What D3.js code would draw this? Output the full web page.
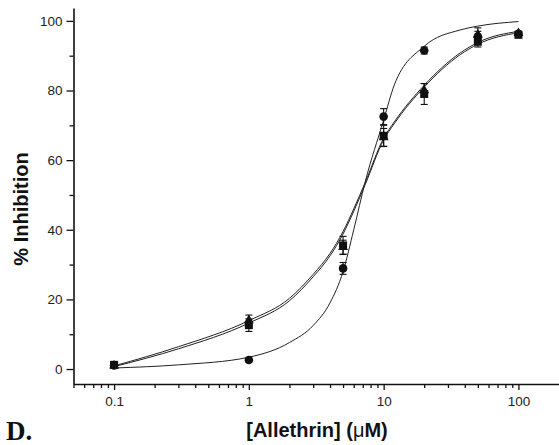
<!DOCTYPE html>
<html>
<head>
<meta charset="utf-8">
<script src="https://cdn.jsdelivr.net/npm/d3@7"></script>
<style>
  body { margin: 0; background: #fff; }
  svg { display: block; font-family: "Liberation Sans", Arial, sans-serif; }
</style>
</head>
<body>
<div class="chart"></div>
<script>
// measured points
const conc = [0.1, 1, 5, 10, 20, 50, 100]
const circleVals = [1.0, 2.6, 28.9, 72.5, 91.5, 95.5, 96.3]
const circleErr = [0.5, 0.6, 1.7, 2.3, 1.0, 1.5, 0.5]
const squareVals = [1.2, 12.6, 35.5, 67.0, 79.0, 94.0, 96.0]
const squareErr = [0.8, 1.8, 2.6, 3.0, 3.0, 1.5, 0.5]
const triangleVals = [1.0, 14.0, 35.0, 66.5, 80.0, 96.0, 96.5]
const triangleErr = [0.5, 1.5, 2.0, 2.6, 2.0, 2.0, 0.5]

// fitted curves
const fitX = [0.1, 0.3, 1, 2, 3, 4, 5, 6, 7.3, 10, 12, 20, 37, 50, 100]
const circleFit = [0.3, 1.2, 3.4, 7.6, 12.5, 19, 28, 40, 53.8, 71.5, 81.6, 92.7, 97.4, 98.5, 99.8]
const squareFit = [0.7, 5.8, 13.2, 19.6, 26.5, 32.5, 38.8, 45.3, 53.0, 65.8, 70.5, 81.0, 90.3, 93.3, 96.6]
const triangleFit = [0.9, 6.4, 13.9, 20.3, 27.2, 33.2, 39.5, 46.0, 53.6, 66.3, 71.0, 81.5, 90.8, 93.8, 97.0]

const xMajor = [0.1, 1, 10, 100]
const xLabels = ['0.1', '1', '10', '100']
const yMajor = [0, 20, 40, 60, 80, 100]
const yMinor = [10, 30, 50, 70, 90]

const width = 559
const height = 445

const x = d3.scaleLog().domain([0.05, 200]).range([73.5, 559])
const y = d3.scaleLinear().domain([-4.3, 103.7]).range([384, 8])

const svg = d3.select('.chart').append('svg')
    .attr('width', width)
    .attr('height', height)

// axes
const xAxis = svg.append('g')
    .attr('transform', 'translate(0,384)')
    .call(d3.axisBottom(x).tickValues(xMajor).tickFormat((d, i) => xLabels[i]).tickSize(6).tickSizeOuter(0).tickPadding(6))
xAxis.append('g')
    .call(d3.axisBottom(x).tickValues(x.ticks().filter(d => !xMajor.includes(d) && d < 199)).tickFormat('').tickSize(4).tickSizeOuter(0))
    .select('.domain').remove()

const yAxis = svg.append('g')
    .attr('transform', 'translate(73.5,0)')
    .call(d3.axisLeft(y).tickValues(yMajor).tickSize(7).tickSizeOuter(0).tickPadding(4))
yAxis.append('g')
    .call(d3.axisLeft(y).tickValues(yMinor).tickFormat('').tickSize(4).tickSizeOuter(0))
    .select('.domain').remove()

svg.selectAll('.domain').attr('stroke', '#111').attr('stroke-width', 1.6)
svg.selectAll('.tick line').attr('stroke', '#111').attr('stroke-width', 1.3)
svg.selectAll('.tick text').attr('font-size', 13.5).attr('fill', '#222')
    .attr('font-family', '"Liberation Sans", Arial, sans-serif')

// titles
svg.append('text')
    .attr('transform', 'translate(28,209) rotate(-90)')
    .attr('text-anchor', 'middle')
    .attr('font-size', 20)
    .attr('font-weight', 'bold')
    .attr('fill', '#111')
    .text('% Inhibition')

const xTitle = svg.append('text')
    .attr('x', 317)
    .attr('y', 437)
    .attr('text-anchor', 'middle')
    .attr('font-size', 20)
    .attr('font-weight', 'bold')
    .attr('fill', '#111')
xTitle.append('tspan').text('[Allethrin] (')
xTitle.append('tspan').attr('font-weight', 'normal').text('μ')
xTitle.append('tspan').text('M)')

svg.append('text')
    .attr('x', 6)
    .attr('y', 440)
    .attr('font-family', '"Liberation Serif", "Times New Roman", serif')
    .attr('font-size', 27)
    .attr('font-weight', 'bold')
    .attr('fill', '#111')
    .text('D.')

// curves
const line = d3.line()
    .x(d => x(d[0]))
    .y(d => y(d[1]))
    .curve(d3.curveMonotoneX)

const curves = svg.append('g')
;[squareFit, triangleFit, circleFit].forEach(fit => {
    curves.append('path')
        .attr('d', line(fitX.map((v, i) => [v, fit[i]])))
        .attr('fill', 'none')
        .attr('stroke', '#222')
        .attr('stroke-width', 1)
})

// error bars
const drawErrors = (vals, errs) => {
    const g = svg.append('g').attr('stroke', '#111').attr('stroke-width', 1.1)
    conc.forEach((c, i) => {
        const cx = x(c)
        const top = y(vals[i] + errs[i])
        const bot = y(vals[i] - errs[i])
        g.append('line').attr('x1', cx).attr('x2', cx).attr('y1', top).attr('y2', bot)
        g.append('line').attr('x1', cx - 3.5).attr('x2', cx + 3.5).attr('y1', top).attr('y2', top)
        g.append('line').attr('x1', cx - 3.5).attr('x2', cx + 3.5).attr('y1', bot).attr('y2', bot)
    })
}
drawErrors(squareVals, squareErr)
drawErrors(triangleVals, triangleErr)
drawErrors(circleVals, circleErr)

// markers
svg.append('g').selectAll('rect')
    .data(conc)
    .enter()
    .append('rect')
    .attr('x', (d) => x(d) - 4)
    .attr('y', (d, i) => y(squareVals[i]) - 4)
    .attr('width', 8)
    .attr('height', 8)
    .attr('fill', '#111')

const tri = d3.symbol().type(d3.symbolTriangle).size(42)
svg.append('g').selectAll('path')
    .data(conc)
    .enter()
    .append('path')
    .attr('d', tri)
    .attr('transform', (d, i) => 'translate(' + x(d) + ',' + y(triangleVals[i]) + ')')
    .attr('fill', '#111')

svg.append('g').selectAll('circle')
    .data(conc)
    .enter()
    .append('circle')
    .attr('cx', (d) => x(d))
    .attr('cy', (d, i) => y(circleVals[i]))
    .attr('r', 4.3)
    .attr('fill', '#111')
</script>
</body>
</html>
